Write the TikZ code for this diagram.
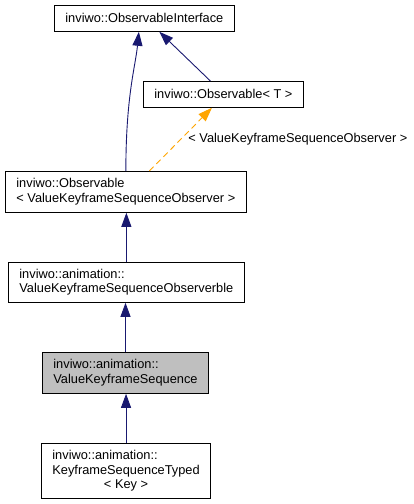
\documentclass[tikz,border=0pt]{standalone}
\usepackage{fontspec}
\setmainfont{Liberation Sans}
\usepackage{xcolor}
\usepackage{tikz}
\usetikzlibrary{arrows.meta,positioning}
\definecolor{DoxNavy}{RGB}{25,25,112}
\definecolor{DoxOrange}{RGB}{255,165,0}
\definecolor{DoxGray}{RGB}{191,191,191}
\definecolor{DoxFrame}{RGB}{0,0,0}

\begin{document}
\begin{tikzpicture}[x=1pt,y=-1pt,
    cls/.style={draw=DoxFrame,fill=white,anchor=north west,inner xsep=11pt,inner ysep=2pt,
      font=\fontsize{12.8}{14.5}\selectfont,align=left,line width=0.8pt},
    inherit/.style={-{Triangle[length=14pt,width=10pt]},DoxNavy,line width=0.9pt},
    usage/.style={-{Triangle[length=14pt,width=10pt]},DoxOrange,dashed,dash pattern=on 6pt off 4pt,line width=0.9pt}]
  \useasboundingbox (0,0) rectangle (413,504);
  \node[cls,align=center,minimum height=26pt] (iface) at (54,5) {inviwo::ObservableInterface};
  \node[cls,align=center,minimum height=26pt] (obsT) at (143,81) {inviwo::Observable< T >};
  \node[cls,minimum height=41pt] (obsV) at (5,171)
    {inviwo::Observable\\< ValueKeyframeSequenceObserver >};
  \node[cls,minimum height=40pt] (observ) at (8,262)
    {inviwo::animation::\\ValueKeyframeSequenceObserverble};
  \node[cls,fill=DoxGray,minimum height=41pt] (vks) at (42,352)
    {inviwo::animation::\\ValueKeyframeSequence};
  \node[cls,minimum height=55pt] (kst) at (41,443)
    {inviwo::animation::\\KeyframeSequenceTyped\\\hfil< Key >};

  \draw[inherit] (obsV.north) .. controls ([yshift=75pt]obsV.north) and ([xshift=-9pt,yshift=-35pt]iface.south) .. ([xshift=-5.5pt]iface.south);
  \draw[inherit] ([xshift=-13pt]obsT.north) -- ([xshift=15pt]iface.south);
  \draw[usage] ([xshift=23.5pt]obsV.north) -- ([xshift=-11.5pt]obsT.south)
    node[midway,anchor=west,xshift=4pt,text=black,font=\fontsize{12.8}{14.5}\selectfont] {< ValueKeyframeSequenceObserver >};
  \draw[inherit] (observ.north) -- (observ.north |- obsV.south);
  \draw[inherit] (vks.north) -- (vks.north |- observ.south);
  \draw[inherit] (kst.north) -- (kst.north |- vks.south);
\end{tikzpicture}
\end{document}
